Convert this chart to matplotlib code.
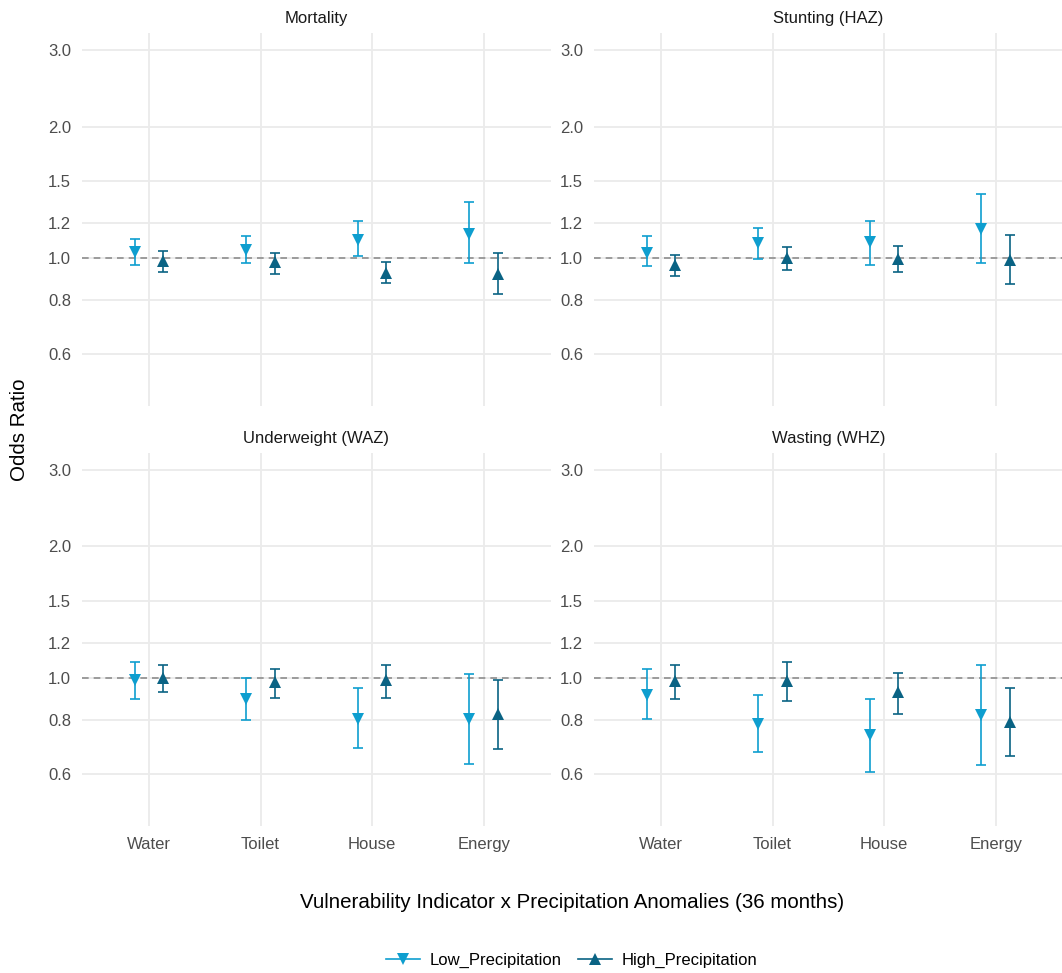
import numpy as np
import matplotlib.pyplot as plt
from matplotlib.lines import Line2D
from matplotlib.ticker import NullLocator

plt.rcParams['font.family'] = ['Liberation Sans', 'DejaVu Sans']

# === Data (odds ratios and 95% CI) ===
categories = ["Water", "Toilet", "House", "Energy"]
outcomes = ["Mortality", "Stunting (HAZ)", "Underweight (WAZ)", "Wasting (WHZ)"]

mort_low_or = [1.03, 1.043, 1.099, 1.135]
mort_low_lo = [0.964, 0.971, 1.007, 0.971]
mort_low_hi = [1.103, 1.121, 1.215, 1.341]
mort_high_or = [0.981, 0.978, 0.924, 0.919]
mort_high_lo = [0.929, 0.915, 0.874, 0.824]
mort_high_hi = [1.034, 1.025, 0.979, 1.023]

stunt_low_or = [1.027, 1.080, 1.084, 1.161]
stunt_low_lo = [0.957, 0.995, 0.964, 0.972]
stunt_low_hi = [1.121, 1.171, 1.215, 1.400]
stunt_high_or = [0.960, 0.998, 0.995, 0.988]
stunt_high_lo = [0.908, 0.935, 0.929, 0.868]
stunt_high_hi = [1.016, 1.056, 1.063, 1.129]

under_low_or = [0.986, 0.894, 0.805, 0.805]
under_low_lo = [0.894, 0.799, 0.690, 0.634]
under_low_hi = [1.086, 1.000, 0.949, 1.018]
under_high_or = [0.996, 0.976, 0.990, 0.827]
under_high_lo = [0.929, 0.900, 0.900, 0.685]
under_high_hi = [1.071, 1.047, 1.071, 0.986]

wast_low_or = [0.915, 0.782, 0.737, 0.823]
wast_low_lo = [0.806, 0.674, 0.607, 0.630]
wast_low_hi = [1.047, 0.915, 0.894, 1.072]
wast_high_or = [0.984, 0.984, 0.926, 0.791]
wast_high_lo = [0.894, 0.883, 0.824, 0.660]
wast_high_hi = [1.071, 1.086, 1.023, 0.949]

y_breaks = [0.6, 0.8, 1.0, 1.2, 1.5, 2.0, 3.0]

panels = [
    (mort_low_or, mort_low_lo, mort_low_hi, mort_high_or, mort_high_lo, mort_high_hi),
    (stunt_low_or, stunt_low_lo, stunt_low_hi, stunt_high_or, stunt_high_lo, stunt_high_hi),
    (under_low_or, under_low_lo, under_low_hi, under_high_or, under_high_lo, under_high_hi),
    (wast_low_or, wast_low_lo, wast_low_hi, wast_high_or, wast_high_lo, wast_high_hi),
]

low_col = "#0E9ECF"
high_col = "#0A6384"
grid_col = "#EBEBEB"
dodge = 0.128

W, H = 1062, 973
fig = plt.figure(figsize=(W / 100, H / 100), dpi=100)
fig.patch.set_facecolor("white")

# panel boxes in pixels: (left, top, right, bottom)
boxes = [(82, 33, 550.7, 405.7), (594, 33, 1062.7, 405.7),
         (82, 452.7, 550.7, 826), (594, 452.7, 1062.7, 826)]


def draw_series(ax, x, est, lo, hi, color, marker):
    est = np.array(est)
    yerr = [est - np.array(lo), np.array(hi) - est]
    ax.errorbar(x, est, yerr=yerr, fmt="none", ecolor=color, elinewidth=1.2,
                capsize=3.9, capthick=1.2, zorder=3)
    ax.plot(x, est, linestyle="none", marker=marker, color=color, markersize=8.5,
            markeredgewidth=0, zorder=4)


xs = np.arange(len(categories))
for i, (name, data, box) in enumerate(zip(outcomes, panels, boxes)):
    l, t, r, b = box
    ax = fig.add_axes([l / W, 1 - b / H, (r - l) / W, (b - t) / H])
    ax.set_yscale("log")
    ax.set_ylim(0.457, 3.28)
    ax.set_xlim(-0.6, len(categories) - 0.4)
    for s in ax.spines.values():
        s.set_visible(False)
    ax.set_yticks(y_breaks)
    ax.set_yticklabels([f"{v:.1f}" for v in y_breaks])
    ax.yaxis.set_minor_locator(NullLocator())
    ax.set_xticks(xs)
    if i >= 2:
        ax.set_xticklabels(categories)
    else:
        ax.set_xticklabels([])
    ax.tick_params(length=0, labelsize=12, labelcolor="#4D4D4D", pad=8)
    ax.grid(True, color=grid_col, linewidth=1.3, zorder=0)
    ax.set_axisbelow(True)
    ax.axhline(1.0, color="#8E8E8E", linestyle=(0, (4, 3)), linewidth=1.2, zorder=1)

    low_or, low_lo, low_hi, high_or, high_lo, high_hi = data
    draw_series(ax, xs - dodge, low_or, low_lo, low_hi, low_col, "v")
    draw_series(ax, xs + dodge, high_or, high_lo, high_hi, high_col, "^")

    ax.set_title(name, fontsize=12, color="#1A1A1A", pad=7)

fig.text(20 / W, 1 - 429.5 / H, "Odds Ratio", rotation=90, ha="center", va="center",
         fontsize=14.8)
fig.text(572 / W, 1 - 902 / H, "Vulnerability Indicator x Precipitation Anomalies (36 months)",
         ha="center", va="center", fontsize=14.8)

handles = [
    Line2D([0], [0], color=low_col, marker="v", markersize=8.5, markeredgewidth=0, linewidth=1.2),
    Line2D([0], [0], color=high_col, marker="^", markersize=8.5, markeredgewidth=0, linewidth=1.2),
]
fig.legend(handles, ["Low_Precipitation", "High_Precipitation"], loc="center",
           bbox_to_anchor=(572 / W, 1 - 960 / H), ncol=2, frameon=False, fontsize=12,
           handlelength=2.0, columnspacing=1.0, handletextpad=0.6)

fig.savefig("out.png", dpi=100, facecolor="white")
